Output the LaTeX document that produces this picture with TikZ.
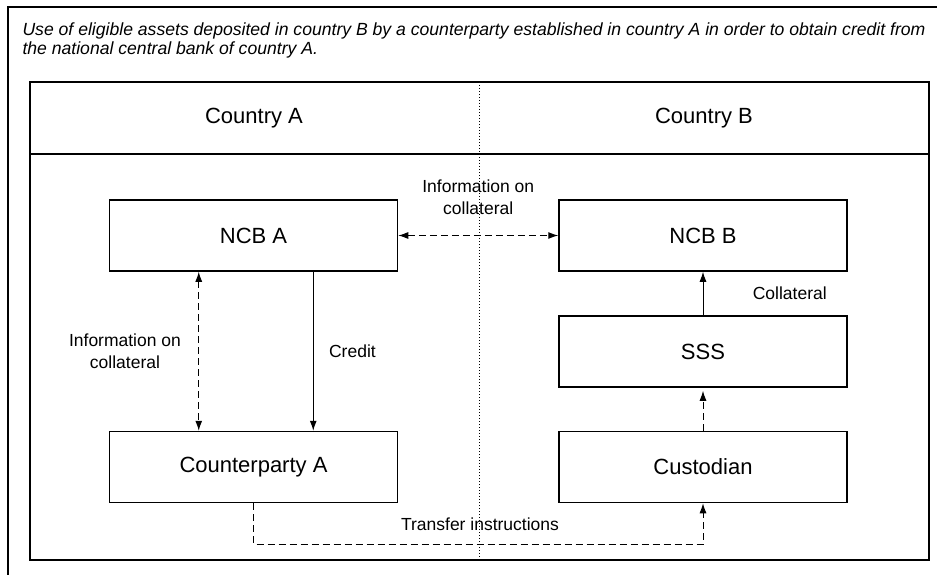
\documentclass[tikz,border=0pt]{standalone}
\usepackage{fontspec}
\setmainfont{Liberation Sans}
\usetikzlibrary{arrows.meta}
\begin{document}
\begin{tikzpicture}
  [x=1pt,y=-1pt
  ,block/.style={rectangle,draw=black,line width=1.5pt,minimum width=288pt,minimum height=71pt,inner sep=0pt,font=\fontsize{22}{26}\selectfont}
  ,lbl/.style={align=center,font=\fontsize{17.5}{21.5}\selectfont}
  ,flow/.style={line width=1pt,-{Latex[length=10pt,width=7pt]}}
  ,info/.style={line width=1pt,dash pattern=on 7pt off 4pt,{Latex[length=10pt,width=7pt]}-{Latex[length=10pt,width=7pt]}}]
\useasboundingbox (0,0) rectangle (937,575);
% frames
\draw [line width=1.5pt] (8,575) -- (8,7) -- (937,7);
\node at (19,40.5) (caption) [anchor=west,align=left,font=\fontsize{17.6}{19}\selectfont\itshape]
  {Use of eligible assets deposited in country B by a counterparty established in country A in order to obtain credit from\\
   the national central bank of country A.};
\draw [line width=1.5pt] (30,82) rectangle (929,560);
\draw [line width=2.5pt] (30,154) -- (929,154);
\draw [line width=1pt,dotted] (479,82) -- (479,560);
\node at (254,118) (countrya) [font=\fontsize{22}{26}\selectfont] {Country A};
\node at (704,118) (countryb) [font=\fontsize{22}{26}\selectfont] {Country B};
%
\node at (253.5,235.5) (ncba) [block] {NCB A};
\node at (703,235.5) (ncbb) [block] {NCB B};
\node at (703,351.5) (sss) [block] {SSS};
\node at (253.5,467) (cpa) [block] {Counterparty A};
\node at (703,467) (cust) [block] {Custodian};
%
\draw [info] (ncba.east) -- (ncbb.west) node[pos=0.5,above=17pt,lbl]{Information on\\collateral};
\draw [info] ([xshift=90pt]ncba.south west) -- ([xshift=90pt]cpa.north west)
  node[pos=0.5,left=14pt,lbl]{Information on\\collateral};
\draw [flow] ([xshift=-85pt]ncba.south east) -- ([xshift=-85pt]cpa.north east)
  node[pos=0.5,right=12pt,lbl]{Credit};
\draw [flow] (sss.north) -- (ncbb.south) node[pos=0.5,right=46pt,lbl]{Collateral};
\draw [flow,dash pattern=on 7pt off 4pt,shorten >=3pt] (cust.north) -- (sss.south);
\draw [flow,dash pattern=on 7pt off 4pt] (cpa.south) -- ++(0,41) coordinate (turn) -| (cust.south);
\node at (480,524) (transfer) [lbl] {Transfer instructions};
\end{tikzpicture}
\end{document}
